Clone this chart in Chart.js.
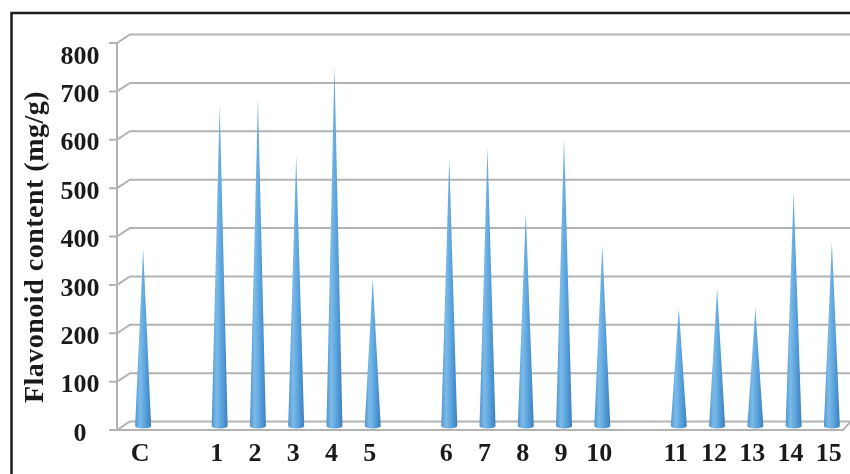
<!DOCTYPE html>
<html>
<head>
<meta charset="utf-8">
<script src="https://cdn.jsdelivr.net/npm/chart.js@4/dist/chart.umd.min.js"></script>
<style>
  html, body { margin: 0; padding: 0; background: #fff; }
  #wrap { width: 850px; height: 474px; position: relative; }
</style>
</head>
<body>
<div id="wrap"><canvas id="chart" width="850" height="474"></canvas></div>
<script>
// Samples: control, then three groups of five extracts (blank slots separate the groups)
const categories = ['C', '', '1', '2', '3', '4', '5', '', '6', '7', '8', '9', '10', '', '11', '12', '13', '14', '15'];
// Flavonoid content, mg/g
const flavonoid = [367, null, 663, 677, 559, 745, 305, null, 555, 576, 442, 594, 374, null, 244, 285, 244, 483, 380];
// Value axis
const yMin = 0;
const yMax = 800;
const yStep = 100;
const yTitle = 'Flavonoid content (mg/g)';

const FONT = "'Liberation Serif', 'Times New Roman', serif";
const TEXT = '#1a1a1a';
const GRID = '#b3b3b3';
const DEPTH_X = 13;   // back wall offset, px
const DEPTH_Y = 8.5;

// Pseudo-3D box: back wall gridlines, side-wall ticks, floor, frame, value labels, cones
const box3d = {
  id: 'box3d',
  beforeDraw(chart) {
    const ctx = chart.ctx;
    ctx.save();
    ctx.fillStyle = '#fff';
    ctx.fillRect(0, 0, chart.width, chart.height);
    ctx.strokeStyle = '#1c1c1c';
    ctx.lineWidth = 2.5;
    ctx.strokeRect(11.5, 13, chart.width + 20, chart.height + 20);
    ctx.restore();
  },
  beforeDatasetsDraw(chart) {
    const ctx = chart.ctx;
    const y = chart.scales.y;
    const area = chart.chartArea;
    const axisX = area.left - 4;
    const backX = axisX + DEPTH_X;
    ctx.save();
    ctx.strokeStyle = GRID;
    ctx.lineWidth = 2;
    ctx.lineCap = 'butt';
    for (let v = yMin; v <= yMax; v += yStep) {
      const yf = y.getPixelForValue(v);
      const yb = yf - DEPTH_Y;
      ctx.beginPath();
      ctx.moveTo(axisX - 8, yf);
      ctx.lineTo(axisX, yf);
      ctx.lineTo(backX, yb);
      ctx.lineTo(chart.width, yb);
      ctx.stroke();
    }
    // front value axis
    ctx.beginPath();
    ctx.moveTo(axisX, y.getPixelForValue(yMax));
    ctx.lineTo(axisX, y.getPixelForValue(yMin));
    ctx.stroke();
    // floor front edge and right end
    const y0 = y.getPixelForValue(yMin);
    ctx.beginPath();
    ctx.moveTo(axisX, y0);
    ctx.lineTo(area.right - 5, y0);
    ctx.lineTo(area.right - 5 + DEPTH_X * 0.6, y0 - DEPTH_Y);
    ctx.stroke();

    // value labels on the front axis, kept inside the box at the top
    ctx.fillStyle = TEXT;
    ctx.font = 'bold 26px ' + FONT;
    ctx.textAlign = 'center';
    ctx.textBaseline = 'middle';
    y.ticks.forEach(t => {
      const py = Math.max(y.getPixelForValue(t.value) + 4, area.top + 14);
      ctx.fillText(t.label, 80, py);
    });

    // axis title
    ctx.font = 'bold 28px ' + FONT;
    if ('letterSpacing' in ctx) ctx.letterSpacing = '0.5px';
    ctx.translate(36, 247);
    ctx.rotate(-Math.PI / 2);
    ctx.fillText(yTitle, 0, 0);
    ctx.restore();
  },
  afterDatasetsDraw(chart) {
    const ctx = chart.ctx;
    const meta = chart.getDatasetMeta(0);
    const values = chart.data.datasets[0].data;
    ctx.save();
    meta.data.forEach((el, i) => {
      if (values[i] === null || values[i] === undefined) return;
      const cx = el.x + 3;
      const base = el.base - 4;
      const tip = el.y - 4;
      const r = 8;
      const g = ctx.createLinearGradient(cx - r, 0, cx + r, 0);
      g.addColorStop(0, '#4f95d1');
      g.addColorStop(0.3, '#7cbbe8');
      g.addColorStop(0.6, '#5ca5de');
      g.addColorStop(1, '#3c7fbf');
      ctx.beginPath();
      ctx.moveTo(cx - r, base);
      ctx.lineTo(cx, tip);
      ctx.lineTo(cx + r, base);
      ctx.ellipse(cx, base, r, 2.5, 0, 0, Math.PI);
      ctx.closePath();
      ctx.fillStyle = g;
      ctx.fill();
    });
    ctx.restore();
  }
};

new Chart(document.getElementById('chart'), {
  type: 'bar',
  data: {
    labels: categories,
    datasets: [{
      data: flavonoid,
      backgroundColor: 'rgba(0,0,0,0)',
      borderWidth: 0
    }]
  },
  options: {
    responsive: false,
    animation: false,
    devicePixelRatio: 1,
    layout: { padding: { left: 14, top: 43, right: 2, bottom: 0 } },
    plugins: {
      legend: { display: false },
      tooltip: { enabled: false },
      title: { display: false }
    },
    scales: {
      x: {
        grid: { display: false },
        border: { display: false },
        ticks: {
          color: TEXT,
          font: { family: FONT, size: 26, weight: 'bold' },
          padding: 1,
          maxRotation: 0,
          autoSkip: false
        },
        afterFit(scale) { scale.height = 44; }
      },
      y: {
        min: yMin,
        max: yMax,
        grid: { display: false },
        border: { display: false },
        ticks: {
          stepSize: yStep,
          display: false
        },
        afterFit(scale) { scale.width = 107; }
      }
    }
  },
  plugins: [box3d]
});
</script>
</body>
</html>
